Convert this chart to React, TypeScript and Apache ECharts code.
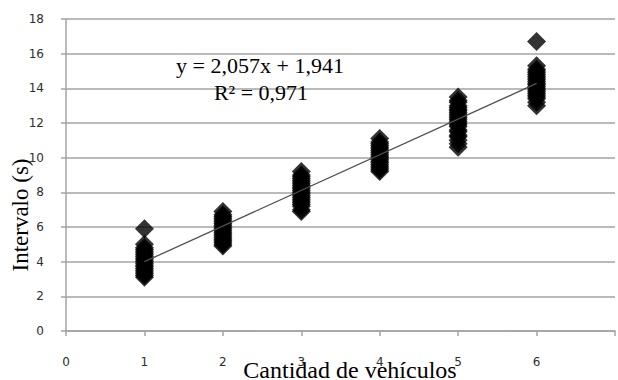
import React, { useEffect, useRef } from "react";
import * as echarts from "echarts";

const xTicks = [0, 1, 2, 3, 4, 5, 6, 7];
const yTicks = [0, 2, 4, 6, 8, 10, 12, 14, 16, 18];

const vals1 = [3.1, 3.2, 3.3, 3.4, 3.5, 3.6, 3.7, 3.8, 3.9, 4.0, 4.1, 4.2, 4.3, 4.4, 4.5, 4.6, 4.7, 4.8, 5.0, 5.9];
const vals2 = [4.9, 5.0, 5.1, 5.2, 5.3, 5.4, 5.5, 5.6, 5.7, 5.8, 5.9, 6.0, 6.1, 6.2, 6.3, 6.4, 6.5, 6.6, 6.7, 6.9];
const vals3 = [6.9, 7.0, 7.2, 7.3, 7.4, 7.5, 7.6, 7.7, 7.8, 7.9, 8.0, 8.1, 8.2, 8.3, 8.4, 8.5, 8.6, 8.7, 8.8, 8.9, 9.0, 9.2];
const vals4 = [9.2, 9.3, 9.4, 9.5, 9.6, 9.7, 9.8, 9.9, 10.0, 10.1, 10.2, 10.3, 10.4, 10.5, 10.6, 10.7, 10.8, 10.9, 11.1];
const vals5 = [10.6, 10.8, 11.0, 11.2, 11.3, 11.5, 11.6, 11.8, 11.9, 12.0, 12.1, 12.2, 12.3, 12.4, 12.5, 12.6, 12.7, 12.8, 12.9, 13.0, 13.2, 13.3, 13.5];
const vals6 = [13.0, 13.2, 13.4, 13.5, 13.6, 13.7, 13.8, 13.9, 14.0, 14.1, 14.2, 14.3, 14.4, 14.5, 14.6, 14.7, 14.8, 14.9, 15.0, 15.1, 15.3, 16.7];
const vehicleCounts = [1, 2, 3, 4, 5, 6];
const intervals = [vals1, vals2, vals3, vals4, vals5, vals6];

const trendX = [1, 6];
const trendY = [3.998, 14.283];

const equationText = "y = 2,057x + 1,941";
const r2Text = "R² = 0,971";
const xTitle = "Cantidad de vehículos";
const yTitle = "Intervalo (s)";

export default function App() {
  const ref = useRef<HTMLDivElement>(null);
  useEffect(() => {
    document.body.style.margin = "0";
    if (!ref.current) return;
    const chart = echarts.init(ref.current, null, { renderer: "svg" });
    const scatterData: number[][] = [];
    vehicleCounts.forEach((x, i) => {
      intervals[i].forEach((v) => scatterData.push([x, v]));
    });
    const grey = "#a3a3a3";
    const labelColor = "#2e2e2e";
    chart.setOption({
      animation: false,
      backgroundColor: "#ffffff",
      grid: { left: 66, top: 19, bottom: 49, right: -6, containLabel: false },
      xAxis: {
        type: "value",
        min: xTicks[0],
        max: xTicks[xTicks.length - 1],
        interval: 1,
        axisLine: { show: true, lineStyle: { color: grey, width: 1.5 } },
        axisTick: { show: true, inside: false, length: 5, lineStyle: { color: grey, width: 1.5 } },
        splitLine: { show: false },
        axisLabel: {
          margin: 25,
          color: labelColor,
          fontFamily: "DejaVu Sans",
          fontSize: 12,
          formatter: (v: number) => (v === 7 ? "" : String(v)),
        },
      },
      yAxis: {
        type: "value",
        min: yTicks[0],
        max: yTicks[yTicks.length - 1],
        interval: 2,
        axisLine: { show: true, lineStyle: { color: grey, width: 1.5 } },
        axisTick: { show: true, inside: false, length: 5, lineStyle: { color: grey, width: 1.5 } },
        splitLine: { show: true, lineStyle: { color: grey, width: 1.5 } },
        axisLabel: {
          margin: 22,
          color: labelColor,
          fontFamily: "DejaVu Sans",
          fontSize: 12,
        },
      },
      series: [
        {
          type: "scatter",
          data: scatterData,
          symbol: "diamond",
          symbolSize: 19,
          itemStyle: { color: "#000000" },
          z: 3,
        },
        {
          type: "line",
          data: trendX.map((x, i) => [x, trendY[i]]),
          symbol: "none",
          lineStyle: { color: "#505050", width: 1.3 },
          z: 4,
        },
      ],
      graphic: [
        {
          type: "text",
          x: 260,
          y: 65,
          style: {
            text: equationText,
            font: "22px 'Liberation Serif'",
            fill: "#000",
            textAlign: "center",
            textVerticalAlign: "middle",
          },
          z: 10,
        },
        {
          type: "text",
          x: 261,
          y: 92,
          style: {
            text: r2Text,
            font: "22px 'Liberation Serif'",
            fill: "#000",
            textAlign: "center",
            textVerticalAlign: "middle",
          },
          z: 10,
        },
        {
          type: "text",
          x: 350,
          y: 358,
          style: {
            text: xTitle,
            font: "24px 'Liberation Serif'",
            fill: "#000",
            textAlign: "center",
            textVerticalAlign: "top",
          },
          z: 10,
        },
        {
          type: "text",
          x: 20,
          y: 215,
          rotation: Math.PI / 2,
          style: {
            text: yTitle,
            font: "23px 'Liberation Serif'",
            fill: "#000",
            textAlign: "center",
            textVerticalAlign: "middle",
          },
          z: 10,
        },
      ],
    });
    return () => chart.dispose();
  }, []);
  return <div ref={ref} style={{ width: 618, height: 380 }} />;
}
